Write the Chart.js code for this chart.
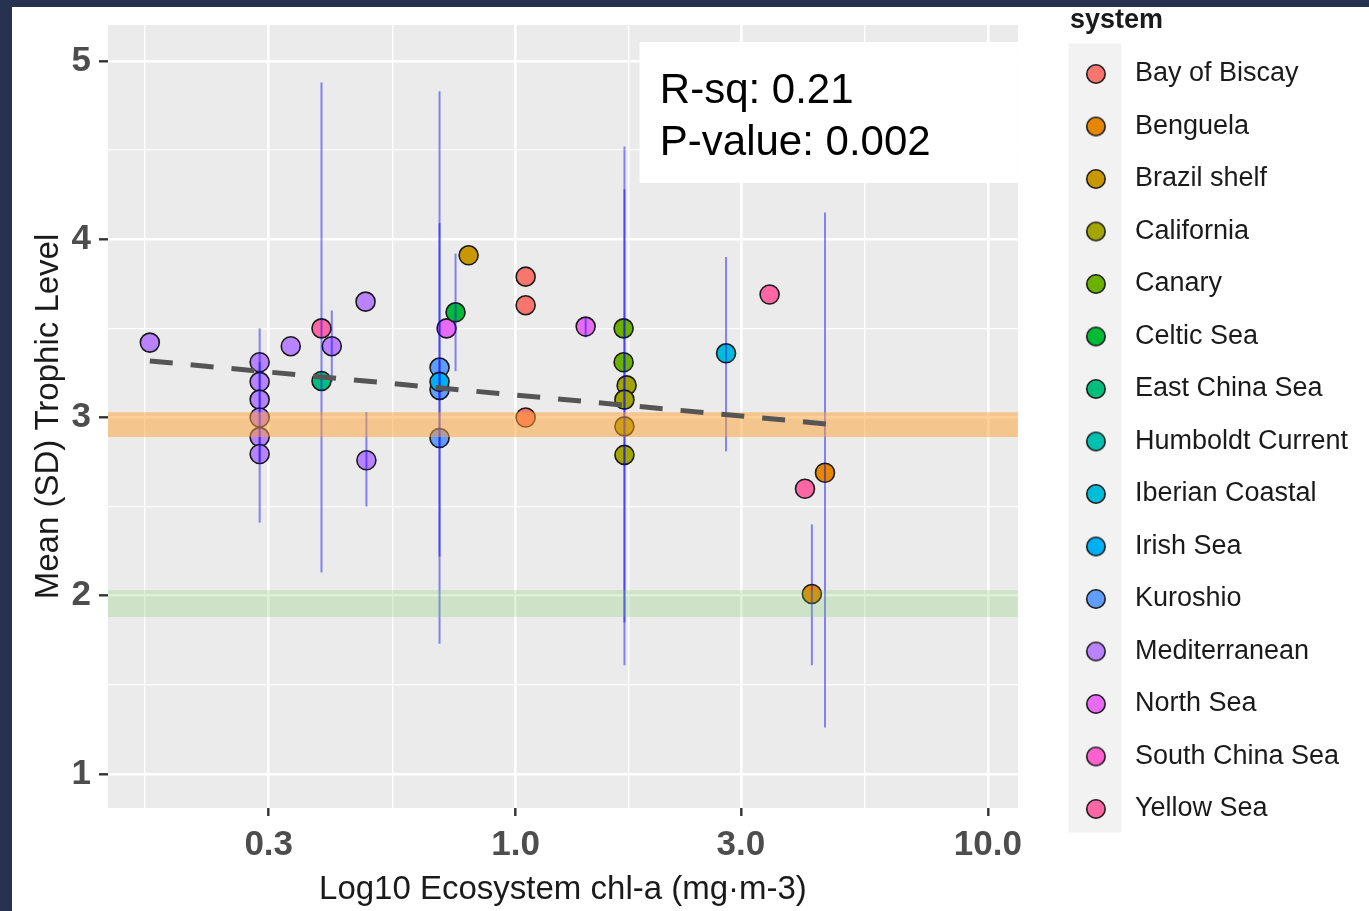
<!DOCTYPE html>
<html>
<head>
<meta charset="utf-8">
<title>Trophic level vs chl-a</title>
<script src="https://cdn.jsdelivr.net/npm/chart.js@4.4.1/dist/chart.umd.min.js"></script>
<style>
  html, body { margin: 0; padding: 0; background: #263250; overflow: hidden; }
  #wrap { position: absolute; left: 12px; top: 7px; width: 1357px; height: 904px; background: #fff; }
</style>
</head>
<body>
<div id="wrap"><canvas id="tlChart" width="1357" height="904"></canvas></div>
<script>
const fontFamily = "'Liberation Sans', Arial, sans-serif";

const systems = [
  "Bay of Biscay", "Benguela", "Brazil shelf", "California", "Canary",
  "Celtic Sea", "East China Sea", "Humboldt Current", "Iberian Coastal", "Irish Sea",
  "Kuroshio", "Mediterranean", "North Sea", "South China Sea", "Yellow Sea"
];
const systemColors = [
  "#F8766D", "#E58700", "#C99800", "#A3A500", "#6BB100",
  "#00BA38", "#00BF7D", "#00C0AF", "#00BCD8", "#00B0F6",
  "#619CFF", "#B983FF", "#E76BF3", "#FD61D1", "#FF67A4"
];

// one entry per point
const pointSystem = [
  "Mediterranean", "Mediterranean", "Mediterranean", "Mediterranean", "Mediterranean",
  "Mediterranean", "Mediterranean", "Mediterranean", "Mediterranean", "Mediterranean", "Mediterranean",
  "Yellow Sea", "Yellow Sea", "Yellow Sea", "East China Sea",
  "Kuroshio", "Irish Sea", "Kuroshio", "Kuroshio",
  "North Sea", "North Sea", "Celtic Sea", "Brazil shelf",
  "Bay of Biscay", "Bay of Biscay", "Bay of Biscay",
  "Canary", "Canary", "California", "California", "California", "California",
  "Iberian Coastal", "Benguela", "Benguela"
];
const pointChl = [
  0.168, 0.287, 0.287, 0.287, 0.287,
  0.287, 0.287, 0.334, 0.408, 0.481, 0.483,
  0.388, 3.45, 4.10, 0.388,
  0.690, 0.690, 0.690, 0.690,
  0.714, 1.407, 0.746, 0.795,
  1.05, 1.05, 1.05,
  1.693, 1.693, 1.718, 1.70, 1.70, 1.70,
  2.79, 4.52, 4.24
];
const pointTL = [
  3.42, 3.31, 3.20, 3.10, 3.00,
  2.89, 2.795, 3.40, 3.40, 3.65, 2.76,
  3.50, 3.69, 2.60, 3.205,
  3.28, 3.20, 3.155, 2.885,
  3.50, 3.51, 3.59, 3.91,
  3.79, 3.63, 3.00,
  3.50, 3.31, 3.18, 3.10, 2.95, 2.79,
  3.36, 2.69, 2.01
];

// SD bars: chl-a, lower, upper
const barChl  = [0.287, 0.287, 0.388, 0.408, 0.483, 0.690, 0.690, 0.746, 1.407, 1.70, 1.70, 2.79, 4.24, 4.52];
const barLow  = [2.41, 2.75, 2.13, 3.20, 2.50, 1.73, 2.22, 3.26, 3.45, 1.61, 1.85, 2.81, 1.61, 1.26];
const barHigh = [3.50, 3.31, 4.88, 3.60, 3.03, 4.83, 4.09, 3.92, 3.56, 4.52, 4.28, 3.90, 2.40, 4.15];

// fitted line
const trendChl = [0.168, 4.54];
const trendTL = [3.317, 2.964];

// reference bands (lower, upper)
const bandOrange = [2.89, 3.03];
const bandGreen = [1.88, 2.03];

const xLimits = [0.137, 11.58];
const yLimits = [0.809, 5.202];
const xMajorTicks = [0.3, 1, 3, 10];
const xMinorTicks = [0.164, 0.548, 1.732, 5.477];
const yMajorTicks = [1, 2, 3, 4, 5];
const yMinorTicks = [1.5, 2.5, 3.5, 4.5];

const statLines = ["R-sq: 0.21", "P-value: 0.002"];

// where the stats label sits, in data units
const statBox = { chlLeft: 1.83, tlTop: 5.107, tlBottom: 4.316, chlText: 2.02, tlLines: [4.764, 4.473] };

Chart.defaults.font.family = fontFamily;

const datasets = [];

systems.forEach((name, i) => {
  const pts = [];
  pointSystem.forEach((s, j) => {
    if (s === name) pts.push({ x: pointChl[j], y: pointTL[j] });
  });
  datasets.push({
    label: name,
    type: "scatter",
    data: pts,
    backgroundColor: systemColors[i],
    borderColor: "#1a1a1a",
    borderWidth: 1.6,
    pointRadius: 9.5,
    pointHoverRadius: 9.5,
    order: 5
  });
});

barChl.forEach((c, i) => {
  datasets.push({
    label: "sd",
    type: "line",
    data: [{ x: c, y: barLow[i] }, { x: c, y: barHigh[i] }],
    borderColor: "rgba(0,0,255,0.45)",
    borderWidth: 2,
    pointRadius: 0,
    order: 3
  });
});

[[bandOrange, "rgba(255,160,50,0.5)"], [bandGreen, "rgba(120,200,90,0.25)"]].forEach(([band, col]) => {
  datasets.push({
    label: "band",
    type: "line",
    data: xLimits.map((c) => ({ x: c, y: band[1] })),
    fill: { value: band[0] },
    backgroundColor: col,
    borderColor: "rgba(0,0,0,0)",
    borderWidth: 0,
    pointRadius: 0,
    order: 1
  });
});

datasets.push({
  label: "trend",
  type: "line",
  data: trendChl.map((c, i) => ({ x: c, y: trendTL[i] })),
  borderColor: "#555555",
  borderWidth: 5,
  borderDash: [23, 18],
  pointRadius: 0,
  order: 0
});

function gridWidth(majors) {
  return (c) => (c.tick && majors.includes(c.tick.value) ? 2.6 : 1.3);
}
function tickCol(majors) {
  return (c) => (c.tick && majors.includes(c.tick.value) ? "#333333" : "rgba(0,0,0,0)");
}

// small drawn key so the legend dot can sit in a wider key box
function legendDot(color) {
  const c = document.createElement("canvas");
  c.width = 22;
  c.height = 22;
  const g = c.getContext("2d");
  g.beginPath();
  g.arc(11, 11, 9.2, 0, Math.PI * 2);
  g.fillStyle = color;
  g.fill();
  g.lineWidth = 1.6;
  g.strokeStyle = "#1a1a1a";
  g.stroke();
  return c;
}

const panelPlugin = {
  id: "panel",
  beforeDraw(chart) {
    const { ctx, chartArea: a } = chart;
    ctx.save();
    ctx.fillStyle = "#EBEBEB";
    ctx.fillRect(a.left, a.top, a.width, a.height);
    const boxes = chart.legend.legendHitBoxes;
    if (boxes && boxes.length) {
      const first = boxes[0];
      const last = boxes[boxes.length - 1];
      const top = first.top - 17;
      ctx.fillStyle = "#F2F2F2";
      ctx.fillRect(first.left - 2, top, 53, last.top + last.height + 10 - top);
      // legend title
      ctx.fillStyle = "#1a1a1a";
      ctx.font = "bold 27px " + fontFamily;
      ctx.textBaseline = "middle";
      ctx.textAlign = "left";
      ctx.fillText("system", first.left - 0.5, 14);
    }
    ctx.restore();
  },
  afterDatasetsDraw(chart) {
    const { ctx, chartArea: a, scales: { x, y } } = chart;
    const left = x.getPixelForValue(statBox.chlLeft);
    const top = y.getPixelForValue(statBox.tlTop);
    const bottom = y.getPixelForValue(statBox.tlBottom);
    ctx.save();
    ctx.fillStyle = "#ffffff";
    ctx.fillRect(left, top, a.right - left, bottom - top);
    ctx.fillStyle = "#000000";
    ctx.font = "42px " + fontFamily;
    ctx.textBaseline = "alphabetic";
    ctx.textAlign = "left";
    statLines.forEach((t, i) => {
      ctx.fillText(t, x.getPixelForValue(statBox.chlText), y.getPixelForValue(statBox.tlLines[i]));
    });
    ctx.restore();
  }
};

new Chart(document.getElementById("tlChart"), {
  type: "scatter",
  data: { datasets },
  plugins: [panelPlugin],
  options: {
    responsive: false,
    animation: false,
    events: [],
    layout: { padding: { left: 0, top: 0, right: 11, bottom: 0 } },
    plugins: {
      tooltip: { enabled: false },
      filler: { drawTime: "beforeDatasetDraw" },
      legend: {
        position: "right",
        align: "start",
        maxWidth: 400,
        // empty title only reserves the space above the keys
        title: { display: true, text: "", font: { size: 28, lineHeight: 1 }, padding: 0 },
        labels: {
          usePointStyle: true,
          pointStyleWidth: 51,
          boxHeight: 14,
          padding: 25.5,
          color: "#1a1a1a",
          font: { size: 27 },
          generateLabels: (chart) =>
            Chart.defaults.plugins.legend.labels.generateLabels(chart).map((item) => {
              const k = systems.indexOf(item.text);
              if (k >= 0) item.pointStyle = legendDot(systemColors[k]);
              return item;
            }),
          filter: (item) => systems.includes(item.text)
        }
      }
    },
    scales: {
      x: {
        type: "logarithmic",
        bounds: "data",
        min: xLimits[0],
        max: xLimits[1],
        afterBuildTicks: (s) => {
          s.ticks = xMajorTicks.concat(xMinorTicks).sort((a, b) => a - b).map((v) => ({ value: v }));
        },
        afterFit: (s) => { s.height = 103; },
        border: { display: false },
        grid: {
          color: "#ffffff",
          lineWidth: gridWidth(xMajorTicks),
          tickColor: tickCol(xMajorTicks),
          tickWidth: 2.4,
          tickLength: 8
        },
        ticks: {
          autoSkip: false,
          maxRotation: 0,
          minRotation: 0,
          padding: 8,
          color: "#4D4D4D",
          font: { size: 35, weight: "bold" },
          callback: (v) => (xMajorTicks.includes(v) ? v.toFixed(1) : "")
        },
        title: {
          display: true,
          text: "Log10 Ecosystem chl-a (mg·m-3)",
          color: "#1a1a1a",
          font: { size: 33 },
          padding: { top: 0, bottom: 1 }
        }
      },
      y: {
        type: "linear",
        bounds: "data",
        min: yLimits[0],
        max: yLimits[1],
        afterBuildTicks: (s) => {
          s.ticks = yMajorTicks.concat(yMinorTicks).sort((a, b) => a - b).map((v) => ({ value: v }));
        },
        afterFit: (s) => { s.width = 96; },
        border: { display: false },
        grid: {
          color: "#ffffff",
          lineWidth: gridWidth(yMajorTicks),
          tickColor: tickCol(yMajorTicks),
          tickWidth: 2.4,
          tickLength: 9
        },
        ticks: {
          padding: 8,
          color: "#4D4D4D",
          font: { size: 35, weight: "bold", lineHeight: 0.5 },
          callback: (v) => (yMajorTicks.includes(v) ? String(v) : "")
        },
        title: {
          display: true,
          text: "Mean (SD) Trophic Level",
          color: "#1a1a1a",
          font: { size: 33 },
          padding: { top: 17, bottom: 0 }
        }
      },
      xTop: {
        type: "linear",
        position: "top",
        display: true,
        grid: { display: false },
        border: { display: false },
        ticks: { display: false },
        afterFit: (s) => { s.height = 18; }
      },
      yGap: {
        type: "linear",
        position: "right",
        display: true,
        grid: { display: false },
        border: { display: false },
        ticks: { display: false },
        afterFit: (s) => { s.width = 27; }
      }
    }
  }
});
</script>
</body>
</html>
